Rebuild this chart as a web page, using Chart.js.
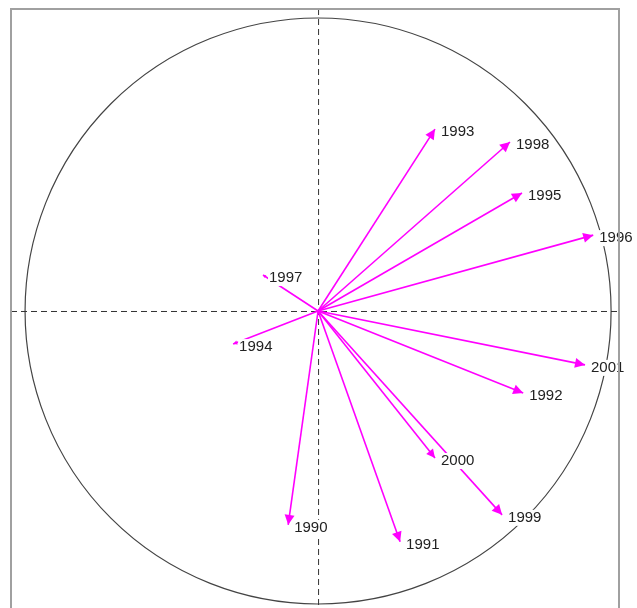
<!DOCTYPE html>
<html>
<head>
<meta charset="utf-8">
<script src="https://cdn.jsdelivr.net/npm/chart.js@4/dist/chart.umd.min.js"></script>
<style>
html,body{margin:0;padding:0;background:#fff;overflow:hidden;}
#wrap{width:637px;height:608px;}
</style>
</head>
<body>
<div id="wrap"><canvas id="c" width="637" height="608"></canvas></div>
<script>
// Years (labels of the arrows)
const years = ['1990','1991','1992','1993','1994','1995','1996','1997','1998','1999','2000','2001'];
// Coordinates on the correlation circle (unit radius)
const xValues = [-0.102, 0.280, 0.700, 0.399, -0.290, 0.696, 0.939, -0.188, 0.655, 0.628, 0.399, 0.911];
const yValues = [-0.730, -0.788, -0.280, 0.621, -0.113, 0.403, 0.259, 0.123, 0.577, -0.696, -0.502, -0.184];

const datasets = years.map((y, i) => ({
  label: y,
  data: [{x: 0, y: 0}, {x: xValues[i], y: yValues[i]}],
  showLine: true,
  borderColor: '#ff00ff',
  backgroundColor: '#ff00ff',
  borderWidth: 1.6,
  pointRadius: 0,
  pointHoverRadius: 0
}));

const decor = {
  id: 'decor',
  beforeDatasetsDraw(chart) {
    const ctx = chart.ctx, xs = chart.scales.x, ys = chart.scales.y, a = chart.chartArea;
    const cx = xs.getPixelForValue(0), cy = ys.getPixelForValue(0);
    const r = xs.getPixelForValue(1) - cx;
    ctx.save();
    ctx.strokeStyle = '#444';
    ctx.lineWidth = 1.2;
    ctx.beginPath();
    ctx.arc(cx, cy, r, 0, Math.PI * 2);
    ctx.stroke();
    ctx.lineWidth = 1;
    ctx.setLineDash([6, 4]);
    ctx.strokeStyle = '#333';
    ctx.beginPath();
    ctx.moveTo(a.left, cy + 0.5); ctx.lineTo(a.right, cy + 0.5);
    ctx.moveTo(cx + 0.5, a.top); ctx.lineTo(cx + 0.5, a.bottom + 20);
    ctx.stroke();
    ctx.restore();
  },
  afterDatasetsDraw(chart) {
    const ctx = chart.ctx, xs = chart.scales.x, ys = chart.scales.y, a = chart.chartArea;
    const ox = xs.getPixelForValue(0), oy = ys.getPixelForValue(0);
    ctx.save();
    // arrowheads
    years.forEach((y, i) => {
      const tx = xs.getPixelForValue(xValues[i]), ty = ys.getPixelForValue(yValues[i]);
      const dx = tx - ox, dy = ty - oy, len = Math.hypot(dx, dy);
      const ux = dx / len, uy = dy / len;
      const hl = Math.min(10, len * 0.046), hw = hl * 0.5;
      ctx.fillStyle = '#ff00ff';
      ctx.beginPath();
      ctx.moveTo(tx, ty);
      ctx.lineTo(tx - ux * hl - uy * hw, ty - uy * hl + ux * hw);
      ctx.lineTo(tx - ux * hl + uy * hw, ty - uy * hl - ux * hw);
      ctx.closePath();
      ctx.fill();
    });
    // labels with white background
    ctx.font = '15px "Liberation Sans", Arial, sans-serif';
    ctx.textBaseline = 'middle';
    years.forEach((y, i) => {
      const tx = xs.getPixelForValue(xValues[i]), ty = ys.getPixelForValue(yValues[i]);
      const lx = tx + 6, ly = ty + 3;
      const w = ctx.measureText(y).width;
      ctx.fillStyle = '#fff';
      ctx.fillRect(lx - 1, ly - 8, w + 2, 16);
      ctx.fillStyle = '#222';
      ctx.fillText(y, lx, ly);
    });
    // frame
    ctx.strokeStyle = '#a0a0a0';
    ctx.lineWidth = 2;
    ctx.beginPath();
    ctx.moveTo(a.left, a.bottom + 20);
    ctx.lineTo(a.left, a.top);
    ctx.lineTo(a.right, a.top);
    ctx.lineTo(a.right, a.bottom + 20);
    ctx.stroke();
    ctx.restore();
  }
};

new Chart(document.getElementById('c'), {
  type: 'scatter',
  data: { datasets },
  options: {
    responsive: false,
    animation: false,
    events: [],
    layout: { padding: { left: 11, right: 18, top: 9, bottom: 0 } },
    plugins: { legend: { display: false }, tooltip: { enabled: false } },
    scales: {
      x: { type: 'linear', min: -1.048, max: 1.027, display: false },
      y: { type: 'linear', min: -1.014, max: 1.031, display: false }
    }
  },
  plugins: [decor]
});
</script>
</body>
</html>
